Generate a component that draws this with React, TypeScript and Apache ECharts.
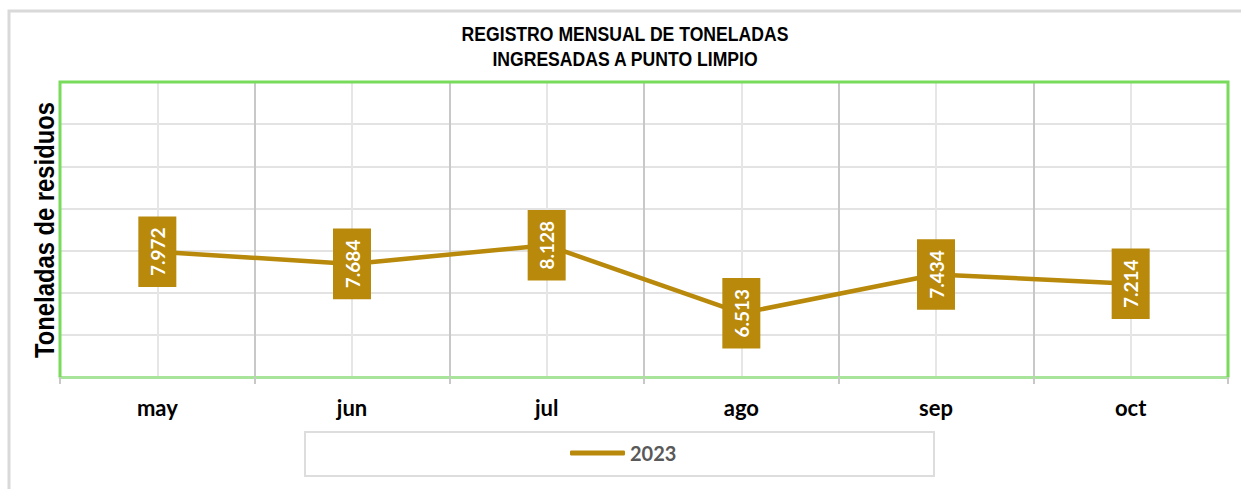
import React, { useEffect, useRef } from "react";
import * as echarts from "echarts";

const months = ["may", "jun", "jul", "ago", "sep", "oct"];
const values2023 = [7.972, 7.684, 8.128, 6.513, 7.434, 7.214];
const seriesName = "2023";
const titleLines = ["REGISTRO MENSUAL DE TONELADAS", "INGRESADAS A PUNTO LIMPIO"];
const yAxisName = "Toneladas de residuos";
const yMin = 5;
const yMax = 12;
const yStep = 1;

const GOLD = "#B8890A";
const GREEN = "#78DB5B";
const ARIAL = "'Liberation Sans', Arial, sans-serif";
const CAL = "Lato, 'Open Sans', sans-serif";

export default function App() {
  const ref = useRef<HTMLDivElement>(null);
  useEffect(() => {
    if (!ref.current) return;
    const chart = echarts.init(ref.current, undefined, { renderer: "svg" });
    const halfSteps = months.length * 2;
    chart.setOption({
      animation: false,
      backgroundColor: "#ffffff",
      legend: {
        left: 570,
        top: 443,
        padding: 0,
        icon: "roundRect",
        itemWidth: 55,
        itemHeight: 5,
        itemGap: 5,
        data: [seriesName],
        textStyle: {
          fontFamily: CAL,
          fontWeight: "bold",
          fontSize: 20,
          color: "#595959",
        },
      },
      grid: { left: 60, right: 13, top: 82, bottom: 112, containLabel: false },
      xAxis: [
        {
          type: "category",
          data: months,
          boundaryGap: true,
          z: 1,
          axisLine: { show: true, lineStyle: { color: "#A9E49B", width: 3 } },
          axisTick: { show: true, length: 7, lineStyle: { color: "#C8C8C8", width: 2 } },
          splitLine: { show: true, lineStyle: { color: "#C8C8C8", width: 2 } },
          axisLabel: {
            margin: 19,
            fontFamily: CAL,
            fontWeight: "bold",
            fontSize: 22,
            color: "#000000",
          },
        },
        {
          type: "value",
          min: 0,
          max: halfSteps,
          interval: 1,
          z: 0,
          axisLine: { show: false },
          axisTick: { show: false },
          axisLabel: { show: false },
          splitLine: { show: true, lineStyle: { color: "#E6E6E6", width: 2 } },
        },
      ],
      yAxis: {
        type: "value",
        min: yMin,
        max: yMax,
        interval: yStep,
        axisLine: { show: false },
        axisTick: { show: false },
        axisLabel: { show: false },
        splitLine: { show: true, lineStyle: { color: "#E3E3E3", width: 2 } },
      },
      graphic: [
        {
          type: "rect",
          shape: { x: 9, y: 11, width: 1260, height: 520 },
          style: { fill: "none", stroke: "#D9D9D9", lineWidth: 3 },
          silent: true,
          z: 0,
        },
        {
          type: "polyline",
          shape: { points: [[60, 377], [60, 82], [1228, 82], [1228, 377]] },
          style: { fill: "none", stroke: GREEN, lineWidth: 3 },
          silent: true,
          z: 50,
        },
        {
          type: "rect",
          shape: { x: 305, y: 432, width: 629, height: 44 },
          style: { fill: "none", stroke: "#DDDDDD", lineWidth: 2 },
          silent: true,
          z: 0,
        },
        {
          type: "text",
          x: 625,
          y: 22,
          scaleX: 0.88,
          silent: true,
          z: 60,
          style: {
            text: titleLines.join("\n"),
            textAlign: "center",
            textVerticalAlign: "top",
            fontFamily: ARIAL,
            fontWeight: "bold",
            fontSize: 20,
            lineHeight: 25,
            fill: "#000000",
          },
        },
        {
          type: "text",
          x: 44,
          y: 230,
          rotation: Math.PI / 2,
          scaleX: 0.85,
          silent: true,
          z: 60,
          style: {
            text: yAxisName,
            textAlign: "center",
            textVerticalAlign: "middle",
            fontFamily: ARIAL,
            fontWeight: "bold",
            fontSize: 28,
            fill: "#000000",
          },
        },
      ],
      series: [
        {
          name: seriesName,
          type: "line",
          data: values2023,
          xAxisIndex: 0,
          yAxisIndex: 0,
          color: GOLD,
          lineStyle: { color: GOLD, width: 4.5, cap: "round" },
          symbol: "circle",
          symbolSize: 1,
          showSymbol: true,
          itemStyle: { color: GOLD },
          z: 10,
          label: {
            show: true,
            position: "inside",
            rotate: 90,
            formatter: (p: any) => Number(p.value).toFixed(3),
            backgroundColor: GOLD,
            color: "#ffffff",
            fontFamily: CAL,
            fontWeight: "bold",
            fontSize: 19,
            lineHeight: 19,
            padding: [10, 11, 9, 11],
          },
        },
      ],
    });
    return () => chart.dispose();
  }, []);
  return (
    <div
      ref={ref}
      style={{ position: "fixed", left: 0, top: 0, width: 1241, height: 489, background: "#fff" }}
    />
  );
}
